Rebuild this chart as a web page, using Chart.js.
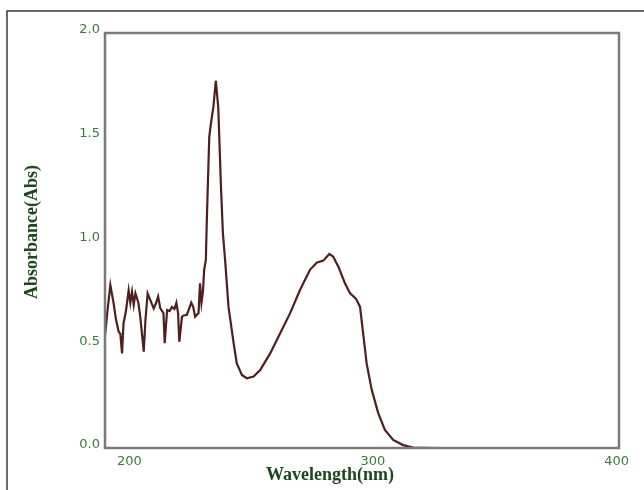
<!DOCTYPE html>
<html>
<head>
<meta charset="utf-8">
<script src="https://cdn.jsdelivr.net/npm/chart.js@4/dist/chart.umd.min.js"></script>
<style>
    html, body { margin: 0; padding: 0; background: #ffffff; }
    #wrap { width: 644px; height: 490px; position: relative; }
</style>
</head>
<body>
<div id="wrap"><canvas id="spectrumChart" width="644" height="490"></canvas></div>
<script>
// UV absorbance spectrum

const wavelengths = [
    190, 191, 192.2, 193.5, 194.5, 195.6, 196.3, 197, 197.6, 198.6,
    199.7, 200.4, 201.1, 201.8, 202.5, 203.7, 204.5, 205.9, 206.6, 207.5,
    208.6, 210, 211, 211.8, 212.7, 214, 214.5, 215.5, 216.5, 217.5,
    218.5, 219.3, 220, 220.5, 221.6, 222.5, 223.6, 224.5, 225.4, 226.2,
    227, 228.4, 229, 229.6, 230.2, 230.7, 231.4, 231.8, 232.3, 232.8,
    233.5, 234.5, 235.5, 236.5, 237.6, 238.4, 239.3, 240.7, 242.8, 244.1,
    246.2, 248.2, 251, 253.7, 257.8, 261.9, 266, 270, 274.2, 276.9,
    279.6, 282.1, 283.7, 285.8, 288.5, 290.6, 293, 294.7, 295.8, 297.4,
    299.5, 302.2, 304.9, 308.3, 312.4, 316.5, 325.4
];
const absorbance = [
    0.54, 0.66, 0.785, 0.70, 0.62, 0.56, 0.55, 0.456, 0.60, 0.66,
    0.76, 0.70, 0.753, 0.69, 0.745, 0.70, 0.63, 0.464, 0.617, 0.745,
    0.713, 0.673, 0.70, 0.73, 0.673, 0.65, 0.505, 0.665, 0.66, 0.68,
    0.67, 0.70, 0.65, 0.512, 0.633, 0.64, 0.641, 0.67, 0.70, 0.68,
    0.633, 0.65, 0.794, 0.70, 0.753, 0.858, 0.906, 1.10, 1.30, 1.50,
    1.565, 1.645, 1.77, 1.64, 1.26, 1.035, 0.906, 0.68, 0.505, 0.408,
    0.352, 0.336, 0.344, 0.376, 0.456, 0.553, 0.65, 0.76, 0.86, 0.893,
    0.903, 0.935, 0.922, 0.874, 0.794, 0.745, 0.72, 0.68, 0.569, 0.408,
    0.28, 0.167, 0.087, 0.039, 0.014, 0.002, 0.0
];
const xTicks = [200, 300, 400];
const yTicks = [0, 0.5, 1.0, 1.5, 2.0];

const tickGreen = '#3a7a3a';
const titleGreen = '#1c481c';

// frame, plot box and axis titles
const framePlugin = {
    id: 'frame',
    beforeDraw(chart) {
        const ctx = chart.ctx;
        ctx.save();
        ctx.strokeStyle = '#3a3a3a';
        ctx.lineWidth = 1.5;
        ctx.beginPath();
        ctx.moveTo(7, 490);
        ctx.lineTo(7, 11);
        ctx.lineTo(644, 11);
        ctx.stroke();
        ctx.restore();
    },
    afterDraw(chart) {
        const ctx = chart.ctx;
        const a = chart.chartArea;
        ctx.save();
        ctx.strokeStyle = '#7a7a7a';
        ctx.lineWidth = 2.5;
        ctx.strokeRect(a.left, a.top, a.right - a.left, a.bottom - a.top);

        ctx.fillStyle = titleGreen;
        ctx.font = 'bold 18px "Liberation Serif", serif';
        ctx.textAlign = 'center';
        ctx.textBaseline = 'middle';
        ctx.fillText('Wavelength(nm)', 330, 475);

        ctx.translate(32, 232);
        ctx.rotate(-Math.PI / 2);
        ctx.font = 'bold 18px "Liberation Serif", serif';
        ctx.fillText('Absorbance(Abs)', 0, 0);
        ctx.restore();
    }
};

new Chart(document.getElementById('spectrumChart'), {
    type: 'line',
    data: {
        datasets: [{
            label: 'Absorbance',
            data: wavelengths.map((w, i) => ({ x: w, y: absorbance[i] })),
            borderColor: '#4e1f1f',
            borderWidth: 2.2,
            pointRadius: 0,
            tension: 0,
            fill: false
        }]
    },
    options: {
        responsive: false,
        animation: false,
        layout: { padding: { top: 33, right: 25, left: 0, bottom: 0 } },
        plugins: {
            legend: { display: false },
            tooltip: { enabled: false }
        },
        scales: {
            x: {
                type: 'linear',
                min: 190,
                max: 401,
                afterBuildTicks: scale => { scale.ticks = xTicks.map(v => ({ value: v })); },
                afterFit: scale => { scale.height = 42; },
                grid: { display: false, drawTicks: false },
                border: { display: false },
                ticks: {
                    color: tickGreen,
                    padding: 6,
                    font: { family: '"DejaVu Sans", sans-serif', size: 13 },
                    callback: v => String(v)
                }
            },
            y: {
                type: 'linear',
                min: 0,
                max: 2.0,
                afterBuildTicks: scale => { scale.ticks = yTicks.map(v => ({ value: v })); },
                afterFit: scale => { scale.width = 105; },
                grid: { display: false, drawTicks: false },
                border: { display: false },
                ticks: {
                    color: tickGreen,
                    padding: 5,
                    labelOffset: -3,
                    font: { family: '"DejaVu Sans", sans-serif', size: 13 },
                    callback: v => v.toFixed(1)
                }
            }
        }
    },
    plugins: [framePlugin]
});
</script>
</body>
</html>
